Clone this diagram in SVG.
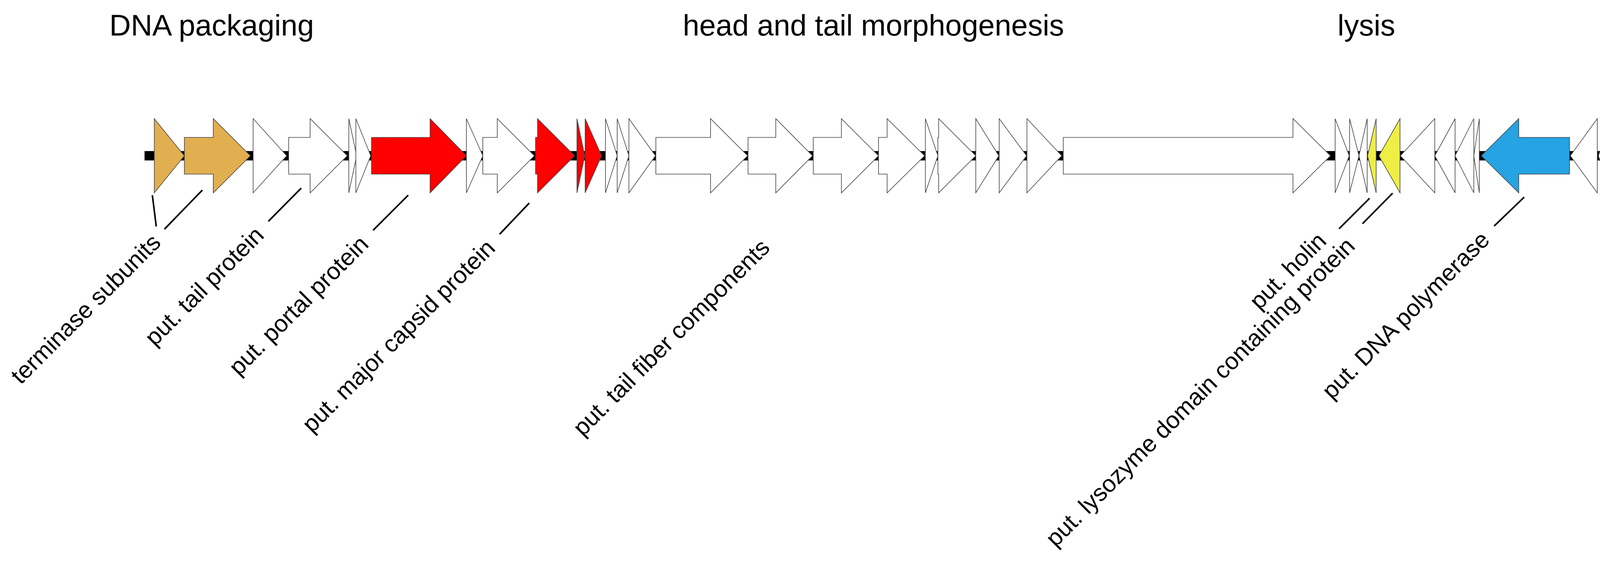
<svg xmlns="http://www.w3.org/2000/svg" width="6776" height="1455" viewBox="0 0 6776 1455">
<style>
polygon{stroke:#444;stroke-width:1.6;stroke-linejoin:miter}
.w{fill:#fff}.tan{fill:#E1AF4F}.red{fill:#FF0000}.yel{fill:#EEEE44}.blu{fill:#25A3E3}
.t{font-family:"Liberation Sans",Arial,sans-serif;font-size:76px;fill:#000}
.l{font-family:"Liberation Sans",Arial,sans-serif;font-size:61px;fill:#000;text-anchor:end}
.c line{stroke:#000;stroke-width:4}
</style>
<rect width="6776" height="1455" fill="#fff"/>
<text class="t" x="280" y="91">DNA packaging</text>
<text class="t" x="1748" y="91">head and tail morphogenesis</text>
<text class="t" x="3424" y="91">lysis</text>
<text class="t" x="4666" y="93">replication</text>
<rect id="track" x="370" y="387" width="6386" height="24" fill="#000"/>
<g id="genes">
<g id="g1"><polygon class="tan" points="395,304 472,399 395,494"/></g>
<g id="g2"><polygon class="tan" points="472,352 546,352 546,304 641,399 546,494 546,446 472,446"/></g>
<g id="g3"><polygon class="w" points="648,304 734,399 648,494"/></g>
<g id="g4"><polygon class="w" points="739,352 794,352 794,304 889,399 794,494 794,446 739,446"/></g>
<g id="g5"><polygon class="w" points="893,304 913,399 893,494"/></g>
<g id="g6"><polygon class="w" points="911,304 949,399 911,494"/></g>
<g id="g7"><polygon class="red" points="951,352 1101,352 1101,304 1194,399 1101,494 1101,446 951,446"/></g>
<g id="g8"><polygon class="w" points="1194,304 1236,399 1194,494"/></g>
<g id="g9"><polygon class="w" points="1236,352 1273,352 1273,304 1368,399 1273,494 1273,446 1236,446"/></g>
<g id="g10"><polygon class="red" points="1371,352 1376,352 1376,304 1471,399 1376,494 1376,446 1371,446"/></g>
<g id="g11"><polygon class="red" points="1477,304 1497,399 1477,494"/></g>
<g id="g12"><polygon class="red" points="1498,304 1540,399 1498,494"/></g>
<g id="g13"><polygon class="w" points="1550,304 1580,399 1550,494"/></g>
<g id="g14"><polygon class="w" points="1580,304 1610,399 1580,494"/></g>
<g id="g15"><polygon class="w" points="1610,304 1678,399 1610,494"/></g>
<g id="g16"><polygon class="w" points="1679,352 1819,352 1819,304 1914,399 1819,494 1819,446 1679,446"/></g>
<g id="g17"><polygon class="w" points="1915,352 1986,352 1986,304 2080,399 1986,494 1986,446 1915,446"/></g>
<g id="g18"><polygon class="w" points="2082,352 2154,352 2154,304 2249,399 2154,494 2154,446 2082,446"/></g>
<g id="g19"><polygon class="w" points="2249,352 2271,352 2271,304 2367,399 2271,494 2271,446 2249,446"/></g>
<g id="g20"><polygon class="w" points="2369,304 2401,399 2369,494"/></g>
<g id="g21"><polygon class="w" points="2401,352 2403,352 2403,304 2498,399 2403,494 2403,446 2401,446"/></g>
<g id="g22"><polygon class="w" points="2498,304 2557,399 2498,494"/></g>
<g id="g23"><polygon class="w" points="2558,304 2628,399 2558,494"/></g>
<g id="g24"><polygon class="w" points="2629,304 2718,399 2629,494"/></g>
<g id="g25"><polygon class="w" points="2722,352 3310,352 3310,304 3406,399 3310,494 3310,446 2722,446"/></g>
<g id="g26"><polygon class="w" points="3418,304 3454,399 3418,494"/></g>
<g id="g27"><polygon class="w" points="3455,304 3479,399 3455,494"/></g>
<g id="g28"><polygon class="w" points="3500,304 3479,399 3500,494"/></g>
<g id="g29"><polygon class="yel" points="3523,304 3501,399 3523,494"/></g>
<g id="g30"><polygon class="yel" points="3584,304 3530,399 3584,494"/></g>
<g id="g31"><polygon class="w" points="3673,304 3585,399 3673,494"/></g>
<g id="g32"><polygon class="w" points="3725,304 3673,399 3725,494"/></g>
<g id="g33"><polygon class="w" points="3773,304 3725,399 3773,494"/></g>
<g id="g34"><polygon class="w" points="3787,304 3773,399 3787,494"/></g>
<g id="g35"><polygon class="blu" points="4018,352 3888,352 3888,304 3792,399 3888,494 3888,446 4018,446"/></g>
<g id="g36"><polygon class="w" points="4089,304 4020,399 4089,494"/></g>
<g id="g37"><polygon class="w" points="4123,304 4092,399 4123,494"/></g>
<g id="g38"><polygon class="w" points="4241,352 4224,352 4224,304 4129,399 4224,494 4224,446 4241,446"/></g>
<g id="g39"><polygon class="w" points="4362,352 4336,352 4336,304 4243,399 4336,494 4336,446 4362,446"/></g>
<g id="g40"><polygon class="w" points="4440,304 4364,399 4440,494"/></g>
<g id="g41"><polygon class="blu" points="4454,352 4552,352 4552,304 4647,399 4552,494 4552,446 4454,446"/></g>
<g id="g42"><polygon class="w" points="4662,304 4703,399 4662,494"/></g>
<g id="g43"><polygon class="w" points="4703,304 4724,399 4703,494"/></g>
<g id="g44"><polygon class="blu" points="4725,352 4879,352 4879,304 4974,399 4879,494 4879,446 4725,446"/></g>
<g id="g45"><polygon class="blu" points="4975,304 5026,399 4975,494"/></g>
<g id="g46"><polygon class="w" points="5029,304 5050,399 5029,494"/></g>
<g id="g47"><polygon class="w" points="5068,304 5050,399 5068,494"/></g>
<g id="g48"><polygon class="w" points="5096,304 5070,399 5096,494"/></g>
<g id="g49"><polygon class="w" points="5127,304 5097,399 5127,494"/></g>
<g id="g50"><polygon class="w" points="5152,304 5129,399 5152,494"/></g>
<g id="g51"><polygon class="w" points="5217,304 5154,399 5217,494"/></g>
<g id="g52"><polygon class="w" points="5243,304 5217,399 5243,494"/></g>
<g id="g53"><polygon class="w" points="5322,304 5254,399 5322,494"/></g>
<g id="g54"><polygon class="w" points="5347,304 5328,399 5347,494"/></g>
<g id="g55"><polygon class="w" points="5398,304 5348,399 5398,494"/></g>
<g id="g56"><polygon class="w" points="5417,304 5398,399 5417,494"/></g>
<g id="g57"><polygon class="blu" points="5490,304 5426,399 5490,494"/></g>
<g id="g58"><polygon class="w" points="5516,304 5491,399 5516,494"/></g>
<g id="g59"><polygon class="blu" points="5565,304 5516,399 5565,494"/></g>
<g id="g60"><polygon class="w" points="5590,304 5573,399 5590,494"/></g>
<g id="g61"><polygon class="w" points="5627,304 5601,399 5627,494"/></g>
<g id="g62"><polygon class="w" points="5655,304 5627,399 5655,494"/></g>
<g id="g63"><polygon class="w" points="5682,304 5655,399 5682,494"/></g>
<g id="g64"><polygon class="w" points="5716,304 5692,399 5716,494"/></g>
<g id="g65"><polygon class="w" points="5778,304 5717,399 5778,494"/></g>
<g id="g66"><polygon class="w" points="5850,304 5779,399 5850,494"/></g>
<g id="g67"><polygon class="w" points="5875,304 5851,399 5875,494"/></g>
<g id="g68"><polygon class="w" points="5893,304 5875,399 5893,494"/></g>
<g id="g69"><polygon class="w" points="5917,304 5894,399 5917,494"/></g>
<g id="g70"><polygon class="w" points="5944,304 5919,399 5944,494"/></g>
<g id="g71"><polygon class="w" points="5959,304 5940,399 5959,494"/></g>
<g id="g72"><polygon class="w" points="5977,304 5968,399 5977,494"/></g>
<g id="g73"><polygon class="w" points="6026,304 5993,399 6026,494"/></g>
<g id="g74"><polygon class="w" points="6071,304 6045,399 6071,494"/></g>
<g id="g75"><polygon class="w" points="6097,304 6071,399 6097,494"/></g>
<g id="g76"><polygon class="w" points="6130,304 6098,399 6130,494"/></g>
<g id="g77"><polygon class="w" points="6162,304 6140,399 6162,494"/></g>
<g id="g78"><polygon class="w" points="6206,304 6177,399 6206,494"/></g>
<g id="g79"><polygon class="w" points="6249,304 6208,399 6249,494"/></g>
<g id="g80"><polygon class="w" points="6291,304 6253,399 6291,494"/></g>
<g id="g81"><polygon class="w" points="6322,304 6289,399 6322,494"/></g>
<g id="g82"><polygon class="w" points="6360,304 6324,399 6360,494"/></g>
<g id="g83"><polygon class="w" points="6386,304 6361,399 6386,494"/></g>
<g id="g84"><polygon class="w" points="6404,304 6385,399 6404,494"/></g>
<g id="g85"><polygon class="w" points="6432,304 6404,399 6432,494"/></g>
<g id="g86"><polygon class="w" points="6460,304 6431,399 6460,494"/></g>
<g id="g87"><polygon class="w" points="6490,304 6460,399 6490,494"/></g>
<g id="g88"><polygon class="w" points="6506,304 6490,399 6506,494"/></g>
<g id="g89"><polygon class="w" points="6534,304 6506,399 6534,494"/></g>
<g id="g90"><polygon class="w" points="6621,304 6550,399 6621,494"/></g>
<g id="g91"><polygon class="w" points="6646,304 6630,399 6646,494"/></g>
<g id="g92"><polygon class="w" points="6730,304 6665,399 6730,494"/></g>
</g>
<g id="connectors" class="c">
<line x1="390" y1="500" x2="400" y2="580"/>
<line x1="518" y1="487" x2="421" y2="587"/>
<line x1="771" y1="482" x2="687" y2="567"/>
<line x1="1045" y1="500" x2="955" y2="590"/>
<line x1="1355" y1="520" x2="1279" y2="600"/>
<line x1="3506" y1="508" x2="3428" y2="586"/>
<line x1="3565" y1="495" x2="3488" y2="573"/>
<line x1="3902" y1="505" x2="3825" y2="579"/>
<line x1="4492" y1="512" x2="4414" y2="589"/>
<line x1="4795" y1="524" x2="4721" y2="599"/>
<line x1="4935" y1="517" x2="4862" y2="593"/>
<line x1="5264" y1="518" x2="5185" y2="602"/>
<line x1="5430" y1="528" x2="5351" y2="612"/>
<line x1="5546" y1="512" x2="5467" y2="596"/>
<line x1="5818" y1="503" x2="5735" y2="586"/>
</g>
<g id="labels">
<text class="l" transform="translate(415,625) rotate(-45)">terminase subunits</text>
<text class="l" transform="translate(679,606) rotate(-45)">put. tail protein</text>
<text class="l" transform="translate(947,629) rotate(-45)">put. portal protein</text>
<text class="l" transform="translate(1271,639) rotate(-45)">put. major capsid protein</text>
<text class="l" transform="translate(1974,638) rotate(-45)">put. tail fiber components</text>
<text class="l" transform="translate(3399,621) rotate(-45)">put. holin</text>
<text class="l" transform="translate(3472,634) rotate(-45)">put. lysozyme domain containing protein</text>
<text class="l" transform="translate(3817,618) rotate(-45)">put. DNA polymerase</text>
<text class="l" transform="translate(4406,628) rotate(-45)">put. helicase</text>
<text class="l" transform="translate(4713,638) rotate(-45)">put. primase</text>
<text class="l" transform="translate(4854,632) rotate(-45)">put. methylase</text>
<text class="l" transform="translate(5177,641) rotate(-45)">PhoH-like protein</text>
<text class="l" transform="translate(5343,651) rotate(-45)">put. exonuclease</text>
<text class="l" transform="translate(5459,635) rotate(-45)">put. polynucleotide kinase</text>
<text class="l" transform="translate(5727,625) rotate(-45)">put. methylase</text>
</g>
</svg>
